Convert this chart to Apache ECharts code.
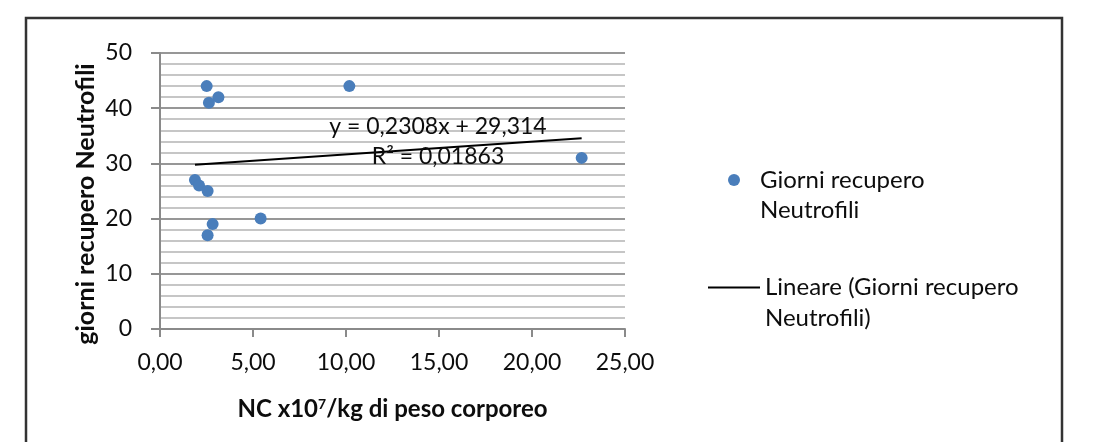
<!DOCTYPE html>
<html>
<head>
<meta charset="utf-8">
<script src="https://cdn.jsdelivr.net/npm/echarts@6/dist/echarts.min.js"></script>
<style>
  html, body { margin: 0; padding: 0; background: #ffffff; }
  #chart { width: 1102px; height: 442px; }
</style>
</head>
<body>
<div id="chart"></div>
<script>
// NC dose (x10^7/kg body weight) and days to neutrophil recovery
const ncDose = [2.51, 3.14, 2.63, 10.18, 1.88, 2.10, 2.56, 2.83, 2.56, 5.41, 22.67];
const recoveryDays = [44, 42, 41, 44, 27, 26, 25, 19, 17, 20, 31];

// Linear trendline coefficients
const trendSlope = 0.2308;
const trendIntercept = 29.314;
const trendR2 = 0.01863;

const xTicks = [0, 5, 10, 15, 20, 25];
const yTicks = [0, 10, 20, 30, 40, 50];

const seriesName = 'Giorni recupero Neutrofili';
const trendName = 'Lineare (Giorni recupero Neutrofili)';

const FONT = 'Lato, "Open Sans", sans-serif';
const INK = '#0d0d0d';
const fmtComma = v => String(v).replace('.', ',');

const points = ncDose.map((x, i) => [x, recoveryDays[i]]);
const xLo = Math.min(...ncDose);
const xHi = Math.max(...ncDose);
const trendPoints = [xLo, xHi].map(x => [x, trendSlope * x + trendIntercept]);

const chart = echarts.init(document.getElementById('chart'), null, { renderer: 'canvas' });

chart.setOption({
  backgroundColor: '#ffffff',
  animation: false,
  textStyle: { fontFamily: FONT },
  grid: { left: 160, right: 477, top: 53, bottom: 113 },
  xAxis: {
    type: 'value',
    min: xTicks[0],
    max: xTicks[xTicks.length - 1],
    interval: 5,
    name: '{t|NC x10}{s|7}{t|/kg di peso corporeo}',
    nameLocation: 'middle',
    nameGap: 68,
    nameTextStyle: {
      rich: {
        t: { fontFamily: FONT, fontSize: 24, fontWeight: 'bold', color: INK },
        s: { fontFamily: FONT, fontSize: 14, fontWeight: 'bold', color: INK, padding: [0, 0, 11, 0] }
      }
    },
    axisLine: { show: true, lineStyle: { color: '#8a8a8a', width: 2 } },
    axisTick: { show: true, length: 8, lineStyle: { color: '#8a8a8a', width: 2 } },
    axisLabel: {
      margin: 22,
      fontFamily: FONT,
      fontSize: 23,
      color: INK,
      formatter: v => v.toFixed(2).replace('.', ',')
    },
    splitLine: { show: false }
  },
  yAxis: {
    type: 'value',
    min: yTicks[0],
    max: yTicks[yTicks.length - 1],
    interval: 10,
    name: 'giorni recupero Neutrofili',
    nameLocation: 'middle',
    nameGap: 62,
    // right padding nudges the rotated title slightly downward
    nameTextStyle: { fontFamily: FONT, fontSize: 25, fontWeight: 'bold', color: INK, padding: [0, 26, 0, 0] },
    axisLine: { show: true, lineStyle: { color: '#8a8a8a', width: 2 } },
    axisTick: { show: true, length: 9, lineStyle: { color: '#8a8a8a', width: 2 } },
    axisLabel: { margin: 28, fontFamily: FONT, fontSize: 23, color: INK },
    splitLine: { show: true, lineStyle: { color: '#979797', width: 2 } },
    minorTick: { show: false, splitNumber: 5 },
    minorSplitLine: { show: true, lineStyle: { color: '#c6c6c6', width: 2 } }
  },
  legend: [
    {
      orient: 'vertical',
      left: 723,
      top: 130,
      itemWidth: 12,
      itemHeight: 12,
      data: [{ name: seriesName, icon: 'circle' }],
      // leading blank line keeps the marker level with the first text line
      formatter: () => '\nGiorni recupero\nNeutrofili',
      textStyle: { fontFamily: FONT, fontSize: 24, color: INK, lineHeight: 30, padding: [0, 0, 0, 15] }
    },
    {
      orient: 'vertical',
      left: 703,
      top: 236,
      itemWidth: 52,
      itemHeight: 2,
      data: [{ name: trendName, icon: 'rect' }],
      formatter: () => '\nLineare (Giorni recupero\nNeutrofili)',
      textStyle: { fontFamily: FONT, fontSize: 24, color: INK, lineHeight: 31 }
    }
  ],
  series: [
    {
      name: seriesName,
      type: 'scatter',
      data: points,
      symbol: 'circle',
      symbolSize: 12,
      itemStyle: { color: '#4a7ebb', opacity: 1 },
      z: 3
    },
    {
      name: trendName,
      type: 'line',
      data: trendPoints,
      symbol: 'none',
      showSymbol: false,
      lineStyle: { color: '#000000', width: 2 },
      itemStyle: { color: '#000000' },
      z: 4
    }
  ],
  graphic: [
    {
      type: 'rect',
      shape: { x: 26, y: 18, width: 1036, height: 500 },
      style: { fill: 'none', stroke: '#333333', lineWidth: 2.5 },
      silent: true
    },
    {
      type: 'text',
      x: 438,
      y: 127,
      style: {
        text: 'y = ' + fmtComma(trendSlope) + 'x + ' + fmtComma(trendIntercept),
        fontFamily: FONT,
        fontSize: 23,
        fill: INK,
        align: 'center',
        verticalAlign: 'middle'
      },
      z: 10
    },
    {
      type: 'text',
      x: 438,
      y: 157,
      style: {
        text: 'R² = ' + fmtComma(trendR2),
        fontFamily: FONT,
        fontSize: 23,
        fill: INK,
        align: 'center',
        verticalAlign: 'middle'
      },
      z: 10
    }
  ]
});
</script>
</body>
</html>
